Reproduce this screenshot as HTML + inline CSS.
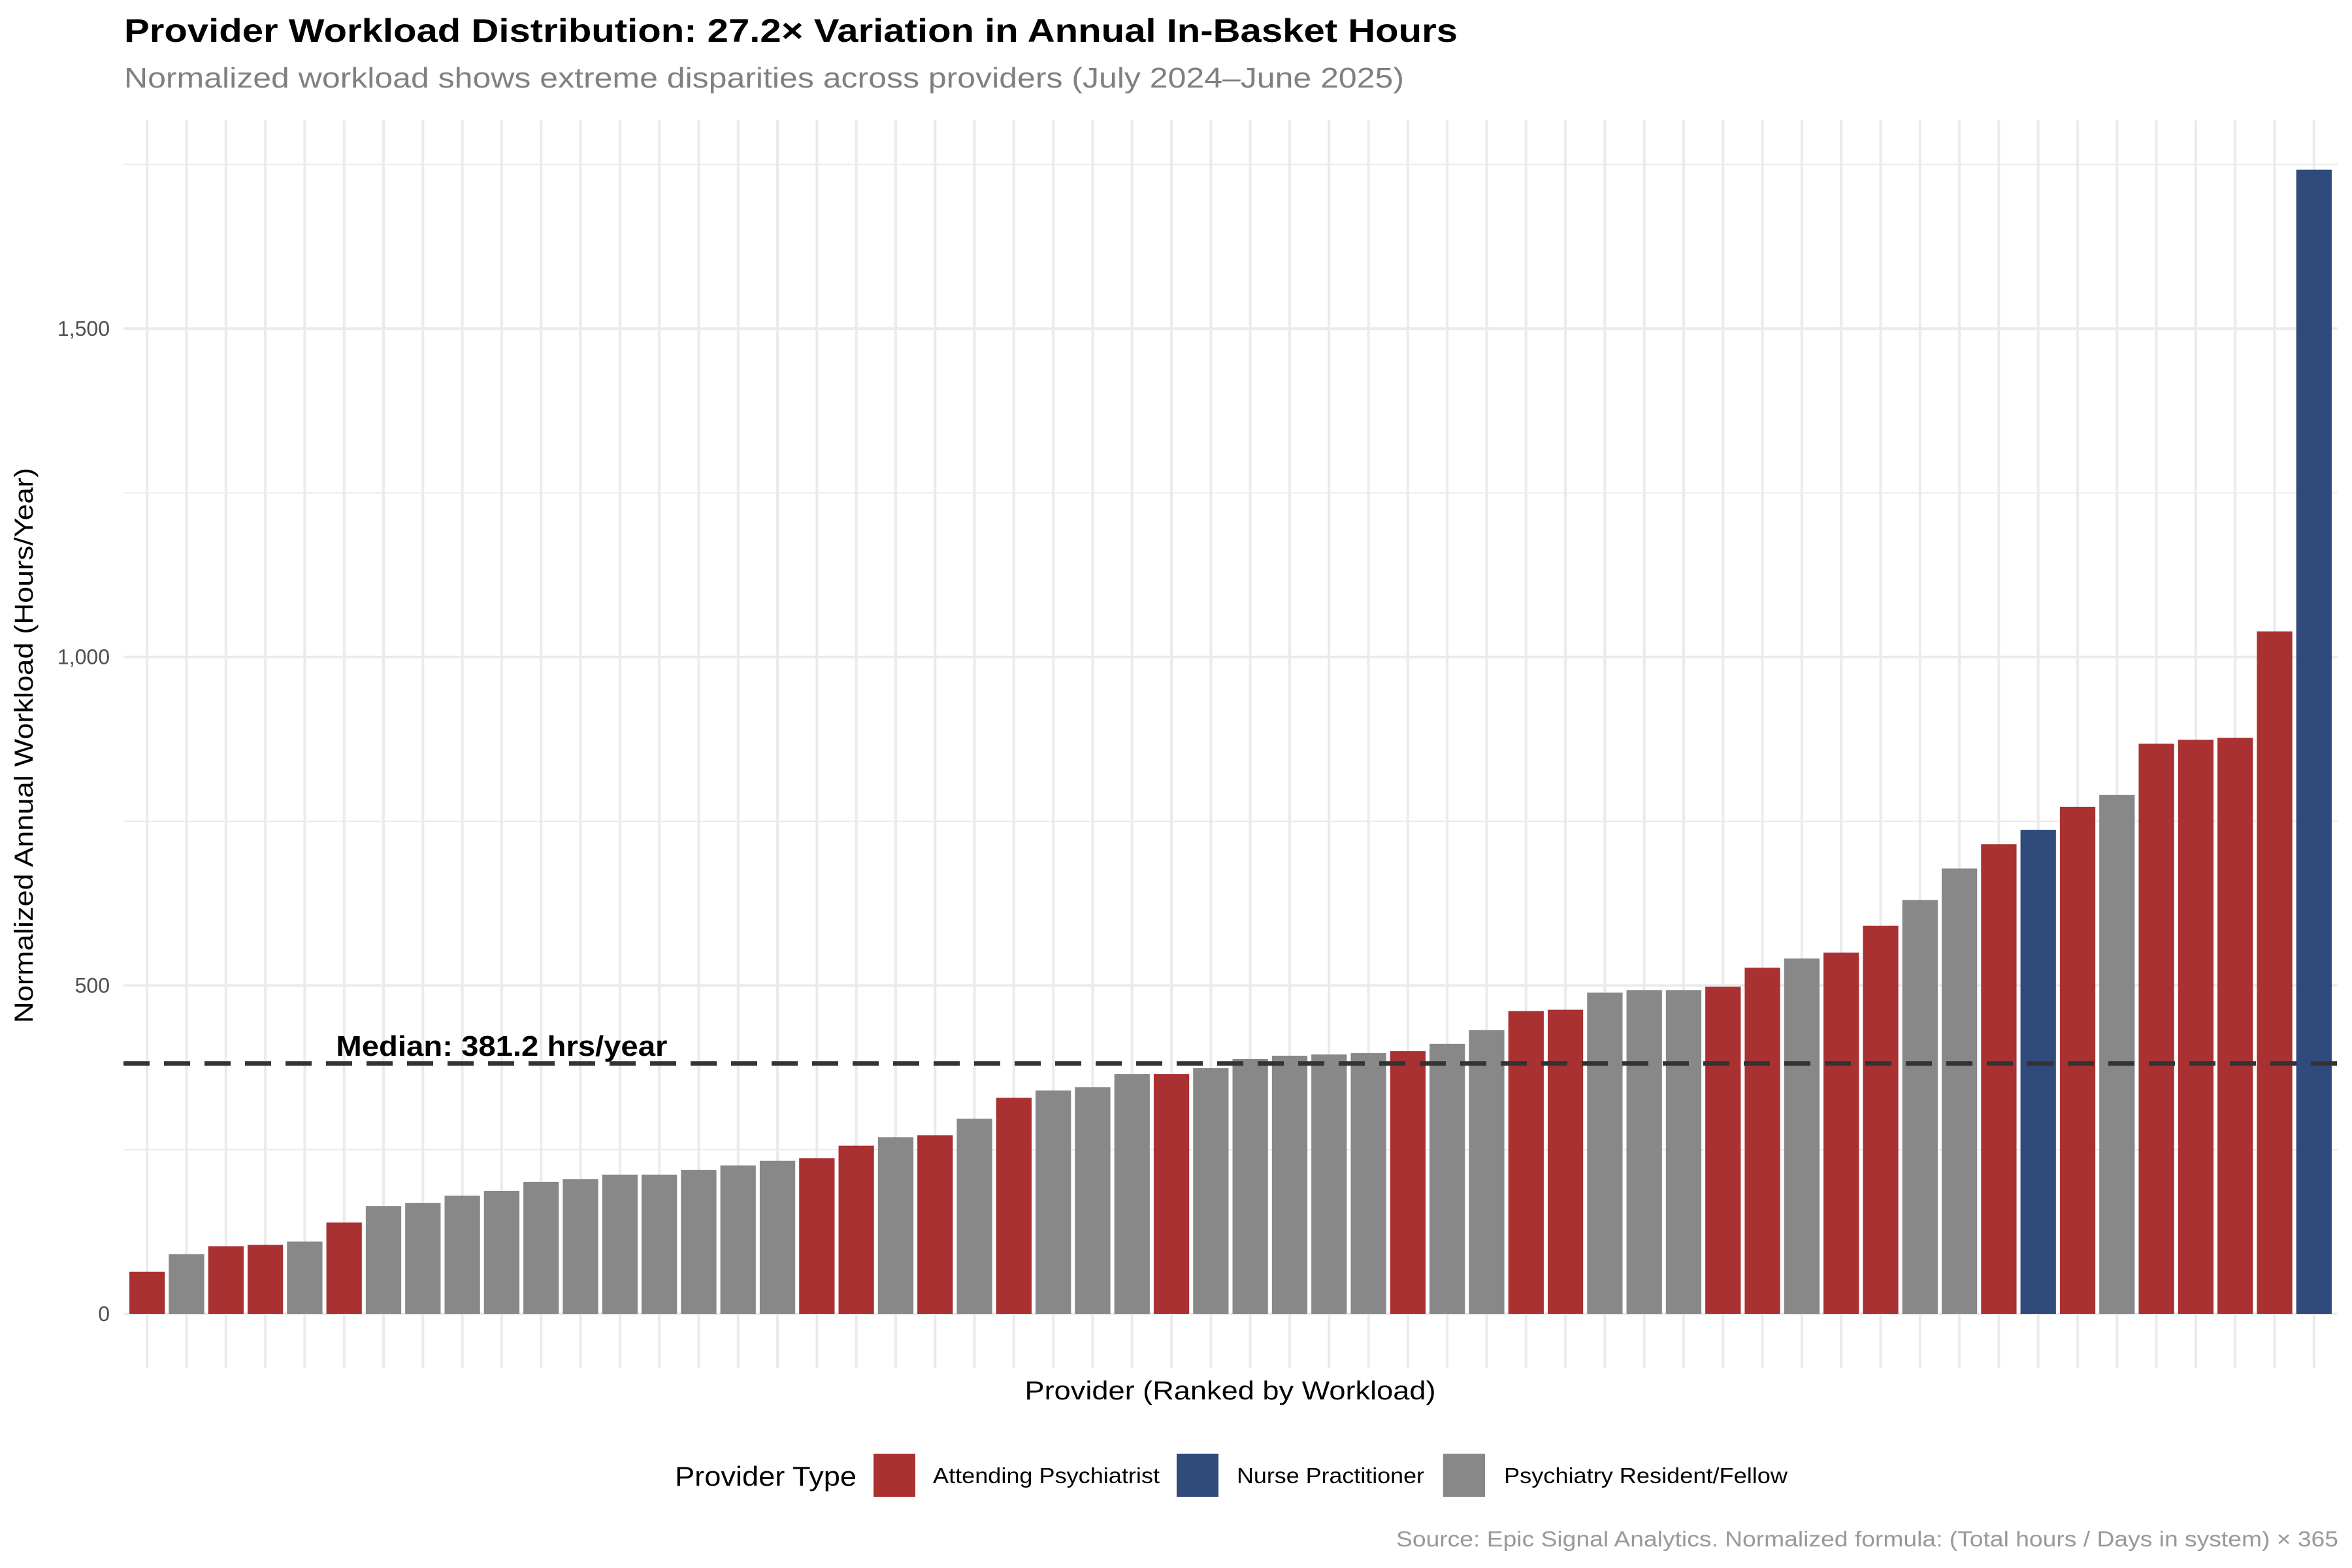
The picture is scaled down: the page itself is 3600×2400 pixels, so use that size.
<!DOCTYPE html>
<html><head><meta charset="utf-8"><style>
html,body{margin:0;padding:0;background:#fff;}
svg{display:block;font-family:"Liberation Sans",Arial,sans-serif;}
</style></head><body>
<svg id="chart" width="3600" height="2400" viewBox="0 0 3600 2400" xmlns="http://www.w3.org/2000/svg">
<rect width="3600" height="2400" fill="#fff"/>
<text x="190" y="64" font-size="50" font-weight="bold" fill="#000" textLength="2041" lengthAdjust="spacingAndGlyphs">Provider Workload Distribution: 27.2× Variation in Annual In-Basket Hours</text>
<text x="190" y="134" font-size="44" fill="#808080" textLength="1959" lengthAdjust="spacingAndGlyphs">Normalized workload shows extreme disparities across providers (July 2024–June 2025)</text>
<g id="grid"></g>
<g id="yticks"></g>
<g id="bars"></g>
<g id="median"></g>
<text transform="translate(50,1141) rotate(-90)" text-anchor="middle" font-size="40" fill="#000" textLength="850" lengthAdjust="spacingAndGlyphs">Normalized Annual Workload (Hours/Year)</text>
<text x="1883" y="2142" text-anchor="middle" font-size="40" fill="#000" textLength="629" lengthAdjust="spacingAndGlyphs">Provider (Ranked by Workload)</text>
<g>
<text x="1033" y="2274" font-size="42" fill="#000" textLength="278" lengthAdjust="spacingAndGlyphs">Provider Type</text>
<rect x="1337" y="2225" width="64" height="66" fill="#aa3131"/>
<text x="1428" y="2270" font-size="33" fill="#000" textLength="347" lengthAdjust="spacingAndGlyphs">Attending Psychiatrist</text>
<rect x="1801" y="2225" width="64" height="66" fill="#2f4a7b"/>
<text x="1893" y="2270" font-size="33" fill="#000" textLength="287" lengthAdjust="spacingAndGlyphs">Nurse Practitioner</text>
<rect x="2209" y="2225" width="64" height="66" fill="#888888"/>
<text x="2302" y="2270" font-size="33" fill="#000" textLength="434" lengthAdjust="spacingAndGlyphs">Psychiatry Resident/Fellow</text>
</g>
<text x="3579" y="2367" text-anchor="end" font-size="33" fill="#999999" textLength="1442" lengthAdjust="spacingAndGlyphs">Source: Epic Signal Analytics. Normalized formula: (Total hours / Days in system) × 365</text>
</svg>
<script>
const values = [64,91,103,105,110,139,164,169,180,187,201,205,212,212,219,226,233,237,256,269,272,297,329,340,345,365,365,374,388,393,395,397,400,411,432,461,463,489,493,493,498,527,541,550,591,630,678,715,737,772,790,868,874,877,1039,1742];
const types = ["A","R","A","A","R","A","R","R","R","R","R","R","R","R","R","R","R","A","A","R","A","R","A","R","R","R","A","R","R","R","R","R","A","R","R","A","A","R","R","R","A","A","R","A","A","R","R","A","N","A","R","A","A","A","A","N"];
const yTicks = [0,500,1000,1500];
const yTickLabels = ["0","500","1,000","1,500"];
const yMinor = [250,750,1250,1750];
const medianValue = 381.2;
const medianLabel = "Median: 381.2 hrs/year";

const NS = "http://www.w3.org/2000/svg";
const plotL = 189, plotR = 3578, plotT = 184, plotB = 2094;
const y0 = 2011, pxPerUnit = 1508/1500;
const n = values.length;
const pitch = (plotR - plotL) / (n - 1 + 1.2);
function xScale(i){ return plotL + (0.6 + i) * pitch; }
function yScale(v){ return y0 - v * pxPerUnit; }
const colors = {A:"#aa3131", N:"#2f4a7b", R:"#888888"};
function mk(tag, attrs, parent){ const e=document.createElementNS(NS,tag); for(const k in attrs) e.setAttribute(k, attrs[k]); parent.appendChild(e); return e; }

const grid = document.getElementById("grid");
yMinor.forEach(v=>{
  const l = mk("line",{x1:plotL,x2:plotR,y1:yScale(v),y2:yScale(v),stroke:"#ebebeb","stroke-width":2},grid);
  
  
});
yTicks.forEach(v=>{
  const l = mk("line",{x1:plotL,x2:plotR,y1:yScale(v),y2:yScale(v),stroke:"#ebebeb","stroke-width":4},grid);
  
  
});
for(let i=0;i<n;i++){
  const l = mk("line",{x1:xScale(i),x2:xScale(i),y1:plotT,y2:plotB,stroke:"#ebebeb","stroke-width":4},grid);
  
  
}
const yt = document.getElementById("yticks");
yTicks.forEach((v,k)=>{
  const t = mk("text",{x:168,y:yScale(v)+11,"text-anchor":"end","font-size":32,fill:"#4d4d4d"},yt);
  t.textContent = yTickLabels[k];
  
  
});
const bars = document.getElementById("bars");
const bw = pitch*0.9;
values.forEach((v,i)=>{
  const r = mk("rect",{x:xScale(i)-bw/2,y:yScale(v),width:bw,height:yScale(0)-yScale(v),fill:colors[types[i]]},bars);
  
  
});
const med = document.getElementById("median");
const ml = mk("line",{x1:plotL,x2:plotR,y1:yScale(medianValue),y2:yScale(medianValue),stroke:"#333333","stroke-width":7,"stroke-dasharray":"40 22"},med);


const mt = mk("text",{x:xScale(9),y:yScale(medianValue)-12,"text-anchor":"middle","font-size":44,"font-weight":"bold",fill:"#000",textLength:507,lengthAdjust:"spacingAndGlyphs"},med);
mt.textContent = medianLabel;


</script>
</body></html>
